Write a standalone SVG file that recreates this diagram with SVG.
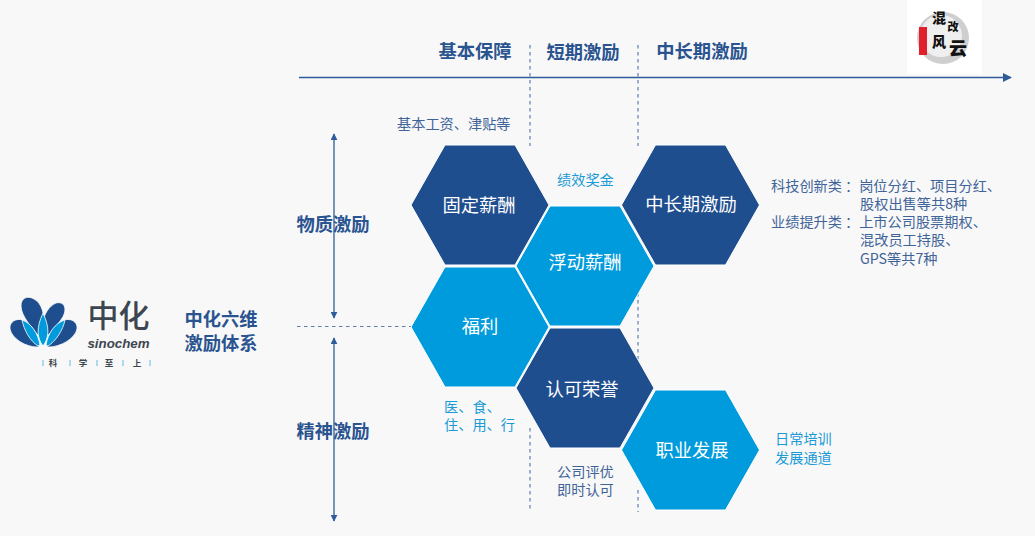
<svg xmlns="http://www.w3.org/2000/svg" width="1035" height="536" viewBox="0 0 1035 536">
<defs>
<style>
text{font-family:"Noto Sans CJK SC","Liberation Sans",sans-serif}
.hd{font-size:18.300px;font-weight:700;fill:#2a5490;text-anchor:middle}
.hx{font-size:18.300px;fill:#fff;text-anchor:middle}
.dk{fill:#1f4e8f;stroke:#fff;stroke-width:1}
.lt{fill:#009bdc;stroke:#fff;stroke-width:1}
.nt{font-size:14.200px;fill:#3f6498}
.bl{font-size:14.200px;fill:#1a9ad6}
.ln{stroke:#2f5c98;stroke-width:1.3;fill:none}
.ds{stroke:#5f7fae;stroke-width:1.2;stroke-dasharray:3.500 3.500;fill:none}
.seal{font-size:14px;font-weight:900;fill:#111;text-anchor:middle}
.pd{fill:#1f4e8f;stroke:#fff;stroke-width:.8}
.pl{fill:#009bdc;stroke:#fff;stroke-width:.8}
</style>
<marker id="ah" viewBox="0 0 10 10" refX="9" refY="5" markerWidth="7" markerHeight="7" markerUnits="userSpaceOnUse" orient="auto-start-reverse"><path d="M0 0L10 5L0 10Z" fill="#2f5c98"/></marker>
<marker id="ahb" viewBox="0 0 10 10" refX="9" refY="5" markerWidth="9" markerHeight="9" markerUnits="userSpaceOnUse" orient="auto"><path d="M0 0L10 5L0 10Z" fill="#2f5c98"/></marker>
<polygon id="hex" points="-69,0 -35,-60 35,-60 69,0 35,60 -35,60"/>
</defs>
<rect width="1035" height="536" fill="#f8f8f8"/>
<g id="connectors">
<path class="ln" d="M299 77.500H1011" marker-end="url(#ahb)"/>
<path class="ds" d="M530 45V146M530 428V512M638 45V146M638 490V512M638 265V392"/>
<path class="ds" d="M297 326.500H411"/>
<path class="ln" d="M334 134V318" marker-start="url(#ah)" marker-end="url(#ah)"/>
<path class="ln" d="M334 338V521" marker-start="url(#ah)" marker-end="url(#ah)"/>
</g>
<g id="axis-labels">
<text class="hd" x="475" y="58">基本保障</text>
<text class="hd" x="583" y="59">短期激励</text>
<text class="hd" x="702" y="58">中长期激励</text>
<text class="hd" x="333" y="231">物质激励</text>
<text class="hd" x="333" y="438">精神激励</text>
</g>
<g id="logo">
<path class="pd" d="M42 340C32 328 21 316 21 306C21 298 27 296 32 298C40 301 44 310 44 322Z"/>
<path class="pd" d="M44 340C54 328 65 318 65 310C65 303 60 302 56 303C49 306 44 314 43 322Z"/>
<path class="pd" d="M37 347C26 347 12 339 10 329C9 321 17 318 23 320C32 323 37 336 39 347Z"/>
<path class="pd" d="M49 347C60 347 75 339 77 329C78 321 70 318 64 320C55 323 50 336 47 347Z"/>
<path class="pl" d="M38 346C30 341 24 330 22 320C31 323 38 333 40 345Z"/>
<path class="pl" d="M48 346C56 341 63 330 65 320C55 323 48 333 46 345Z"/>
<path class="pl" d="M43 346C37 338 36 328 43 313C50 328 49 338 43 346Z"/>
<text x="118.500" y="327" font-size="31" font-weight="500" fill="#3c4650" text-anchor="middle">中化</text>
<text x="118.500" y="348" font-size="13.300" font-weight="700" font-style="italic" fill="#3c4650" text-anchor="middle" style="font-family:'Liberation Sans',sans-serif">sinochem</text>
<g font-size="8.500" font-weight="700" fill="#3c4650" text-anchor="middle">
<text x="53" y="366">科</text><text x="83" y="366">学</text><text x="109" y="366">至</text><text x="137" y="366">上</text>
</g>
<path stroke="#7cc6ea" stroke-width="1.200" d="M43 360v6M70 360v6M97 360v6M123 360v6M150 360v6"/>
</g>
<g id="title">
<text class="hd" x="221" y="326">中化六维</text>
<text class="hd" x="221" y="350">激励体系</text>
</g>
<g id="seal">
<rect x="907" y="0" width="75" height="74" fill="#fff"/>
<circle cx="943" cy="38" r="26" fill="#cfcfcf"/>
<circle cx="941" cy="36" r="21" fill="#efefef"/>
<rect x="919" y="27" width="8" height="28" fill="#e0202a"/>
<text class="seal" x="939" y="23">混</text>
<text class="seal" x="953" y="31" style="font-size:11px">改</text>
<text class="seal" x="939" y="47">风</text>
<text class="seal" x="958" y="55" style="font-size:18px">云</text>
</g>
<g id="n-guding"><use href="#hex" class="dk" x="480" y="205"/><text class="hx" x="479" y="211.500">固定薪酬</text></g>
<g id="n-fudong"><use href="#hex" class="lt" x="585" y="266"/><text class="hx" x="585" y="269">浮动薪酬</text></g>
<g id="n-zhongchang"><use href="#hex" class="dk" x="690.500" y="205"/><text class="hx" x="691" y="211">中长期激励</text></g>
<g id="n-fuli"><use href="#hex" class="lt" x="480" y="327"/><text class="hx" x="480" y="333">福利</text></g>
<g id="n-renke"><use href="#hex" class="dk" x="585" y="388"/><text class="hx" x="582" y="396">认可荣誉</text></g>
<g id="n-zhiye"><use href="#hex" class="lt" x="690.500" y="450"/><text class="hx" x="692" y="457">职业发展</text></g>
<g id="notes">
<text class="nt" x="397" y="129">基本工资、津贴等</text>
<text class="bl" x="557" y="185">绩效奖金</text>
<text class="nt" x="771" y="191">科技创新类<tspan dx="3">：</tspan>岗位分红、项目分红、</text>
<text class="nt" x="860" y="209">股权出售等共8种</text>
<text class="nt" x="771" y="227">业绩提升类<tspan dx="3">：</tspan>上市公司股票期权、</text>
<text class="nt" x="860" y="245">混改员工持股、</text>
<text class="nt" x="860" y="264">GPS等共7种</text>
<text class="bl" x="444" y="412">医、食、</text>
<text class="bl" x="444" y="430">住、用、行</text>
<text class="nt" x="557" y="477">公司评优</text>
<text class="nt" x="557" y="495">即时认可</text>
<text class="bl" x="775" y="444">日常培训</text>
<text class="bl" x="775" y="463">发展通道</text>
</g>
</svg>
